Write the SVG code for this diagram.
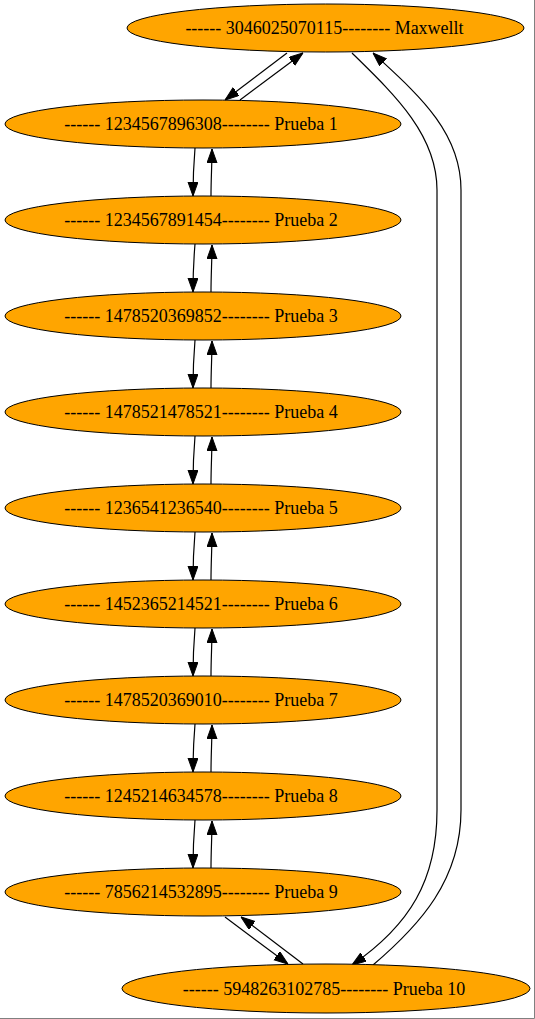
<svg xmlns="http://www.w3.org/2000/svg" width="535" height="1019" viewBox="0 0 535 1019">
<style>
.node ellipse{fill:#ffa500;stroke:#000;stroke-width:1}
.node text{font-family:"Liberation Serif","Times New Roman",serif;font-size:18px;fill:#000;text-anchor:middle}
.edge{fill:none;stroke:#000;stroke-width:1.2;marker-end:url(#arr)}
</style>
<defs>
<marker id="arr" markerUnits="userSpaceOnUse" markerWidth="14" markerHeight="11" refX="14" refY="5" orient="auto">
<path d="M0,0 L14,5 L0,10 z" fill="#000" stroke="#000" stroke-width="1"/>
</marker>
</defs>
<rect x="0" y="0" width="535" height="1019" fill="#fff"/>
<g id="edges">
<path class="edge" d="M287,53 L225,100"/>
<path class="edge" d="M240,100 L303,53"/>
<path class="edge" d="M352,53 C395,95 437,135 437,190 L437,810 C437,880 410,925 352,965"/>
<path class="edge" d="M373,965 C420,925 461,880 461,810 L461,190 C461,130 415,92 373,53"/>
<path class="edge" d="M195,148 C194,160 193,174 193,196"/>
<path class="edge" d="M211,196 C211,179 212,164 212,149"/>
<path class="edge" d="M195,244 C194,256 193,270 193,292"/>
<path class="edge" d="M211,292 C211,275 212,260 212,245"/>
<path class="edge" d="M195,340 C194,352 193,366 193,388"/>
<path class="edge" d="M211,388 C211,371 212,356 212,341"/>
<path class="edge" d="M195,436 C194,448 193,462 193,484"/>
<path class="edge" d="M211,484 C211,467 212,452 212,437"/>
<path class="edge" d="M195,532 C194,544 193,558 193,580"/>
<path class="edge" d="M211,580 C211,563 212,548 212,533"/>
<path class="edge" d="M195,628 C194,640 193,654 193,676"/>
<path class="edge" d="M211,676 C211,659 212,644 212,629"/>
<path class="edge" d="M195,724 C194,736 193,750 193,772"/>
<path class="edge" d="M211,772 C211,755 212,740 212,725"/>
<path class="edge" d="M195,820 C194,832 193,846 193,868"/>
<path class="edge" d="M211,868 C211,851 212,836 212,821"/>
<path class="edge" d="M225,917 L288,964"/>
<path class="edge" d="M303,964 L241,917"/>
</g>
<g id="node0" class="node"><ellipse cx="325.5" cy="28" rx="198.5" ry="24"/><text x="324.5" y="34">------ 3046025070115-------- Maxwellt</text></g>
<g id="node1" class="node"><ellipse cx="203" cy="124" rx="198" ry="24"/><text x="201" y="130">------ 1234567896308-------- Prueba 1</text></g>
<g id="node2" class="node"><ellipse cx="203" cy="220" rx="198" ry="24"/><text x="201" y="226">------ 1234567891454-------- Prueba 2</text></g>
<g id="node3" class="node"><ellipse cx="203" cy="316" rx="198" ry="24"/><text x="201" y="322">------ 1478520369852-------- Prueba 3</text></g>
<g id="node4" class="node"><ellipse cx="203" cy="412" rx="198" ry="24"/><text x="201" y="418">------ 1478521478521-------- Prueba 4</text></g>
<g id="node5" class="node"><ellipse cx="203" cy="508" rx="198" ry="24"/><text x="201" y="514">------ 1236541236540-------- Prueba 5</text></g>
<g id="node6" class="node"><ellipse cx="203" cy="604" rx="198" ry="24"/><text x="201" y="610">------ 1452365214521-------- Prueba 6</text></g>
<g id="node7" class="node"><ellipse cx="203" cy="700" rx="198" ry="24"/><text x="201" y="706">------ 1478520369010-------- Prueba 7</text></g>
<g id="node8" class="node"><ellipse cx="203" cy="796" rx="198" ry="24"/><text x="201" y="802">------ 1245214634578-------- Prueba 8</text></g>
<g id="node9" class="node"><ellipse cx="203" cy="892" rx="198" ry="24"/><text x="201" y="898">------ 7856214532895-------- Prueba 9</text></g>
<g id="node10" class="node"><ellipse cx="326" cy="988.5" rx="204" ry="24.5"/><text x="324" y="994.5">------ 5948263102785-------- Prueba 10</text></g>
<path d="M534.5,0 V1018.5 H0" fill="none" stroke="#808080" stroke-width="1"/>
</svg>
